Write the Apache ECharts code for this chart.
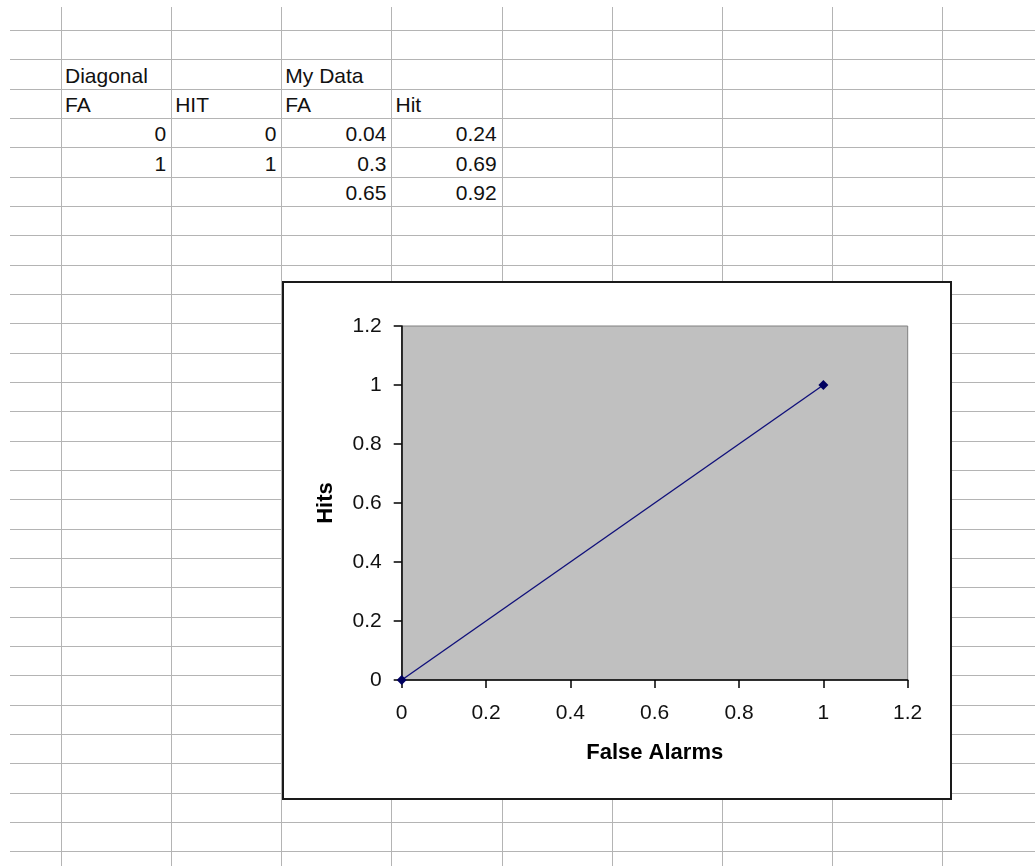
<!DOCTYPE html>
<html>
<head>
<meta charset="utf-8">
<script src="https://cdn.jsdelivr.net/npm/echarts@6/dist/echarts.min.js"></script>
<style>
  html, body { margin:0; padding:0; background:#fff; }
  #sheet { position:absolute; left:0; top:0; width:1035px; height:866px; overflow:hidden; background:#fff; }
  .hl { position:absolute; left:10px; right:0; height:1px; background:#b4b4b4; }
  .vl { position:absolute; top:7px; bottom:0; width:1px; background:#b4b4b4; }
  .cell { position:absolute; font-family:"Liberation Sans", Arial, sans-serif; font-size:21px; color:#111; white-space:nowrap; box-sizing:border-box; }
  #box { position:absolute; left:282px; top:281px; width:670px; height:519px; box-sizing:border-box; border:2px solid #1a1a1a; background:#fff; z-index:1; }
  #chart { position:absolute; left:0; top:0; width:1035px; height:866px; z-index:2; }
</style>
</head>
<body>
<div id="sheet"></div>
<div id="box"></div>
<div id="chart"></div>
<script>
// ---- data ----
const diagonalTitle = 'Diagonal';
const myDataTitle = 'My Data';
const diagHeaders = ['FA', 'HIT'];
const myHeaders = ['FA', 'Hit'];
const diagonalFA = [0, 1];
const diagonalHit = [0, 1];
const myFA = [0.04, 0.3, 0.65];
const myHit = [0.24, 0.69, 0.92];
const xAxisTitle = 'False Alarms';
const yAxisTitle = 'Hits';

// ---- spreadsheet grid ----
const ROW0 = 30, ROWH = 29.33, COL0 = 61, COLW = 110.16;
const sheet = document.getElementById('sheet');
for (let k = 0; k < 29; k++) {
  const d = document.createElement('div');
  d.className = 'hl';
  d.style.top = Math.round(ROW0 + ROWH * k) + 'px';
  sheet.appendChild(d);
}
for (let i = 0; i < 9; i++) {
  const d = document.createElement('div');
  d.className = 'vl';
  d.style.left = Math.round(COL0 + COLW * i) + 'px';
  sheet.appendChild(d);
}
function cell(col, row, text, align) {
  const d = document.createElement('div');
  d.className = 'cell';
  d.style.left = (COL0 + COLW * col) + 'px';
  d.style.top = (ROW0 + ROWH * row + 1.5) + 'px';
  d.style.width = COLW + 'px';
  d.style.height = ROWH + 'px';
  d.style.lineHeight = ROWH + 'px';
  d.style.textAlign = align;
  d.style.paddingLeft = '4px';
  d.style.paddingRight = '5px';
  d.textContent = String(text);
  sheet.appendChild(d);
}
cell(0, 1, diagonalTitle, 'left');
cell(2, 1, myDataTitle, 'left');
cell(0, 2, diagHeaders[0], 'left');
cell(1, 2, diagHeaders[1], 'left');
cell(2, 2, myHeaders[0], 'left');
cell(3, 2, myHeaders[1], 'left');
diagonalFA.forEach((v, i) => cell(0, 3 + i, v, 'right'));
diagonalHit.forEach((v, i) => cell(1, 3 + i, v, 'right'));
myFA.forEach((v, i) => cell(2, 3 + i, v, 'right'));
myHit.forEach((v, i) => cell(3, 3 + i, v, 'right'));

// ---- chart ----
const chart = echarts.init(document.getElementById('chart'), null, { renderer: 'canvas' });
const font = '"Liberation Sans", Arial, sans-serif';
const axisCommon = {
  type: 'value', min: 0, max: 1.2, interval: 0.2,
  nameLocation: 'middle',
  nameTextStyle: { fontFamily: font, fontWeight: 'bold', fontSize: 22, color: '#000' },
  axisLine: { show: true, onZero: false, lineStyle: { color: '#000', width: 1.5 } },
  axisTick: { show: true, inside: false, length: 8, lineStyle: { color: '#000', width: 1.5 } },
  splitLine: { show: false },
};
chart.setOption({
  animation: false,
  backgroundColor: 'transparent',
  grid: {
    left: 401.7, top: 326, width: 506, height: 354,
    show: true, backgroundColor: '#c0c0c0', borderColor: '#808080', borderWidth: 1
  },
  xAxis: Object.assign({}, axisCommon, {
    name: xAxisTitle, nameGap: 62,
    axisLabel: { margin: 23, fontSize: 21, color: '#111', fontFamily: font }
  }),
  yAxis: Object.assign({}, axisCommon, {
    name: yAxisTitle, nameGap: 65,
    axisLabel: { margin: 20, fontSize: 21, color: '#111', fontFamily: font }
  }),
  series: [{
    type: 'line',
    data: diagonalFA.map((x, i) => [x, diagonalHit[i]]),
    symbol: 'diamond', symbolSize: 10, showSymbol: true,
    lineStyle: { color: '#10107a', width: 1.4 },
    itemStyle: { color: '#000060' }
  }]
});
</script>
</body>
</html>
